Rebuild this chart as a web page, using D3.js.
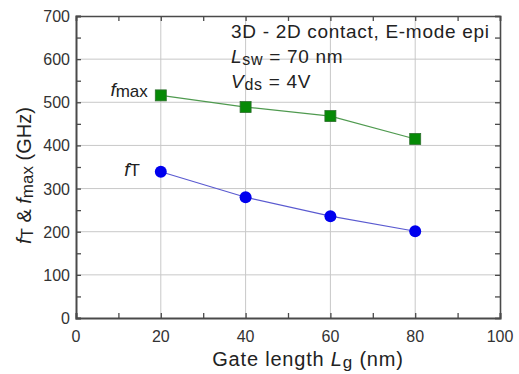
<!DOCTYPE html>
<html>
<head>
<meta charset="utf-8">
<script src="https://cdn.jsdelivr.net/npm/d3@7"></script>
<style>
  body { margin: 0; background: #fff; }
  text { font-family: "Liberation Sans", Arial, sans-serif; fill: #222; }
</style>
</head>
<body>
<script>
var gateLength = [20, 40, 60, 80];
var fmax = [516, 489, 468, 415];
var fT = [339, 280, 236, 201];
var xTicks = [0, 20, 40, 60, 80, 100];
var yTicks = [0, 100, 200, 300, 400, 500, 600, 700];

var screen = {width: 519, height: 374};
var margin = {left: 76, right: 19, top: 16, bottom: 56};

var svg = d3.select("body")
            .append("svg")
            .attr("width", screen.width)
            .attr("height", screen.height);

var x = d3.scaleLinear()
          .domain([0, 100])
          .range([margin.left, screen.width - margin.right]);

var y = d3.scaleLinear()
          .domain([0, 700])
          .range([screen.height - margin.bottom, margin.top]);

// grid
svg.append("g")
   .selectAll("line")
   .data(xTicks.slice(1, -1))
   .enter()
   .append("line")
   .attr("x1", function(d) {return x(d);})
   .attr("x2", function(d) {return x(d);})
   .attr("y1", y(0))
   .attr("y2", y(700))
   .attr("stroke", "#c8c8c8")
   .attr("stroke-width", 1);

svg.append("g")
   .selectAll("line")
   .data(yTicks.slice(1, -1))
   .enter()
   .append("line")
   .attr("x1", x(0))
   .attr("x2", x(100))
   .attr("y1", function(d) {return y(d);})
   .attr("y2", function(d) {return y(d);})
   .attr("stroke", "#c8c8c8")
   .attr("stroke-width", 1);

// axes (ticks pointing inward)
var axBottom = svg.append("g")
   .attr("transform", "translate(0," + y(0) + ")")
   .call(d3.axisBottom(x).tickValues(d3.range(0, 101, 10)).tickSize(-5).tickFormat(""));
var axTop = svg.append("g")
   .attr("transform", "translate(0," + y(700) + ")")
   .call(d3.axisTop(x).tickValues(d3.range(0, 101, 10)).tickSize(-5).tickFormat(""));
var axLeft = svg.append("g")
   .attr("transform", "translate(" + x(0) + ",0)")
   .call(d3.axisLeft(y).tickValues(d3.range(0, 701, 50)).tickSize(-5).tickFormat(""));
var axRight = svg.append("g")
   .attr("transform", "translate(" + x(100) + ",0)")
   .call(d3.axisRight(y).tickValues(d3.range(0, 701, 50)).tickSize(-5).tickFormat(""));

[axBottom, axTop, axLeft, axRight].forEach(function(a) {
  a.select(".domain").attr("stroke", "#4a4a4a").attr("stroke-width", 1.6);
  a.selectAll(".tick line").attr("stroke", "#4a4a4a").attr("stroke-width", 1.3);
});
axBottom.select(".domain").attr("stroke-width", 2);
axLeft.select(".domain").attr("stroke-width", 2);

// tick labels
svg.append("g")
   .selectAll("text")
   .data(xTicks)
   .enter()
   .append("text")
   .attr("x", function(d) {return x(d);})
   .attr("y", y(0) + 24)
   .attr("text-anchor", "middle")
   .style("font-size", "16px")
   .style("fill", "#333")
   .text(function(d) {return d;});

svg.append("g")
   .selectAll("text")
   .data(yTicks)
   .enter()
   .append("text")
   .attr("x", x(0) - 6)
   .attr("y", function(d) {return y(d) + 6;})
   .attr("text-anchor", "end")
   .style("font-size", "16px")
   .style("fill", "#333")
   .text(function(d) {return d;});

// lines
var line = d3.line()
             .x(function(d) {return x(d[0]);})
             .y(function(d) {return y(d[1]);});

svg.append("path")
   .attr("d", line(d3.zip(gateLength, fmax)))
   .attr("fill", "none")
   .attr("stroke", "#4f9a4f")
   .attr("stroke-width", 1.2);

svg.append("path")
   .attr("d", line(d3.zip(gateLength, fT)))
   .attr("fill", "none")
   .attr("stroke", "#5a5ad0")
   .attr("stroke-width", 1.2);

svg.append("g")
   .selectAll("rect")
   .data(d3.zip(gateLength, fmax))
   .enter()
   .append("rect")
   .attr("x", function(d) {return x(d[0]) - 5.5;})
   .attr("y", function(d) {return y(d[1]) - 5.5;})
   .attr("width", 11)
   .attr("height", 11)
   .attr("fill", "#068a06")
   .attr("stroke", "#2f6f2f")
   .attr("stroke-width", 0.8);

svg.append("g")
   .selectAll("circle")
   .data(d3.zip(gateLength, fT))
   .enter()
   .append("circle")
   .attr("cx", function(d) {return x(d[0]);})
   .attr("cy", function(d) {return y(d[1]);})
   .attr("r", 6)
   .attr("fill", "#0000ee");

// series labels
var lblMax = svg.append("text")
   .attr("x", x(20) - 13)
   .attr("y", y(fmax[0]) + 1)
   .attr("text-anchor", "end")
   .style("font-size", "19px");
lblMax.append("tspan").style("font-style", "italic").text("f");
lblMax.append("tspan").style("font-size", "17px").attr("dy", 1).text("max");

var lblT = svg.append("text")
   .attr("x", x(20) - 21)
   .attr("y", y(fT[0]) + 4)
   .attr("text-anchor", "end")
   .style("font-size", "19px");
lblT.append("tspan").style("font-style", "italic").text("f");
lblT.append("tspan").style("font-size", "17px").attr("dy", 0).text("T");

// annotation
var ann = svg.append("g")
   .style("font-size", "19px")
   .style("letter-spacing", "0.7px");

ann.append("text")
   .attr("x", 231)
   .attr("y", 38)
   .text("3D - 2D contact, E-mode epi");

var lsw = ann.append("text")
   .attr("x", 231)
   .attr("y", 63);
lsw.append("tspan").style("font-style", "italic").text("L");
lsw.append("tspan").style("font-size", "16px").attr("dy", 2).text("sw");
lsw.append("tspan").attr("dy", -2).text(" = 70 nm");

var vds = ann.append("text")
   .attr("x", 231)
   .attr("y", 88);
vds.append("tspan").style("font-style", "italic").text("V");
vds.append("tspan").style("font-size", "16px").attr("dy", 2).text("ds");
vds.append("tspan").attr("dy", -2).text(" = 4V");

// axis titles
var xt = svg.append("text")
   .attr("x", 308)
   .attr("y", 366)
   .attr("text-anchor", "middle")
   .style("font-size", "20px")
   .style("letter-spacing", "0.8px");
xt.append("tspan").text("Gate length ");
xt.append("tspan").style("font-style", "italic").text("L");
xt.append("tspan").style("font-size", "17px").attr("dy", 2).text("g");
xt.append("tspan").attr("dy", -2).text(" (nm)");

var yt = svg.append("text")
   .attr("transform", "translate(31," + y(330) + ") rotate(-90)")
   .attr("text-anchor", "middle")
   .style("font-size", "20px");
yt.append("tspan").style("font-style", "italic").text("f");
yt.append("tspan").style("font-size", "17px").attr("dy", 2).text("T");
yt.append("tspan").attr("dy", -2).text(" & ");
yt.append("tspan").style("font-style", "italic").text("f");
yt.append("tspan").style("font-size", "17px").attr("dy", 2).text("max");
yt.append("tspan").attr("dy", -2).text(" (GHz)");
</script>
</body>
</html>
